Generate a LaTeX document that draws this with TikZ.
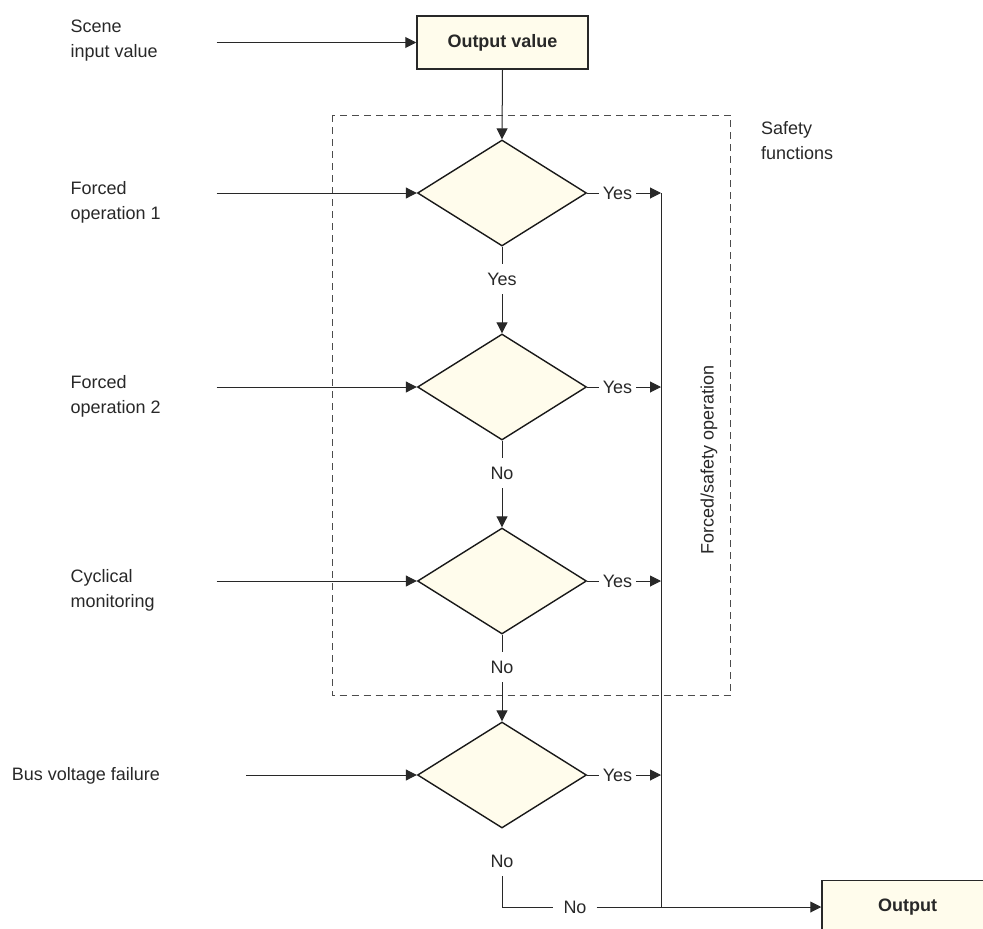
\documentclass[tikz,border=0pt]{standalone}
\usepackage{fontspec}
\setmainfont{Liberation Sans}
\usetikzlibrary{arrows.meta,shapes.geometric}
\definecolor{cream}{RGB}{255,252,236}
\definecolor{ink}{RGB}{40,40,40}
\begin{document}
\begin{tikzpicture}[x=1pt,y=-1pt,
  every node/.style={font=\fontsize{18}{25}\selectfont, text=ink},
  box/.style={draw=ink, line width=1.5pt, fill=cream, minimum width=171pt, minimum height=53pt, inner sep=0pt, font=\fontsize{18}{25}\selectfont\bfseries},
  dec/.style={diamond, draw=black!90, line width=1.4pt, fill=cream, minimum width=169pt, minimum height=106pt, inner sep=0pt},
  conn/.style={draw=ink, line width=1pt},
  arr/.style={conn, -{Triangle[length=11pt,width=11pt]}},
  lbl/.style={inner xsep=4pt, inner ysep=9pt},
  side/.style={anchor=north west, align=left, inner sep=0pt}
]
\useasboundingbox (0,0) rectangle (983,929);
\clip (0,0) rectangle (983,929);

% dashed safety frame
\draw[draw=black!70, line width=1pt, dash pattern=on 7pt off 5pt] (332.3,115) rectangle (730.7,695.7);
\node[side] (sf) at (761,121) {Safety\\functions};
\node[rotate=90] (fso) at (709,460) {Forced/safety operation};

% main nodes
\node[box] (ov) at (502.5,42.5) {Output value};
\node[dec] (d1) at (502,193) {};
\node[dec] (d2) at (502,387) {};
\node[dec] (d3) at (502,581) {};
\node[dec] (d4) at (502,775) {};
\node[box] (out) at (907.5,907) {Output};

% left labels
\node[side] (l0) at (70.5,20) {Scene\\input value};
\node[side] (l1) at (70.5,181) {Forced\\operation 1};
\node[side] (l2) at (70.5,375) {Forced\\operation 2};
\node[side] (l3) at (70.5,569) {Cyclical\\monitoring};
\node[anchor=base west, inner sep=0pt] (l4) at (11.7,780.7) {Bus voltage failure};

\coordinate (s0) at (216.7,42.5);
\coordinate (s1) at (216.7,193);
\coordinate (s2) at (216.7,387);
\coordinate (s3) at (216.7,581);
\coordinate (s4) at (246,775);
\draw[arr] (s0) -- (ov.west);
\draw[arr] (s1) -- (d1.west);
\draw[arr] (s2) -- (d2.west);
\draw[arr] (s3) -- (d3.west);
\draw[arr] (s4) -- (d4.west);

% vertical chain
\draw[arr] (ov.south) -- (d1.north);
\node[lbl] (y12) at (502,279) {Yes};
\node[lbl] (n23) at (502,473) {No};
\node[lbl] (n34) at (502,667) {No};
\node[lbl] (n4b) at (502,861) {No};
\draw[conn] (d1.south) -- (y12.north);
\draw[arr] (y12.south) -- (d2.north);
\draw[conn] (d2.south) -- (n23.north);
\draw[arr] (n23.south) -- (d3.north);
\draw[conn] (d3.south) -- (n34.north);
\draw[arr] (n34.south) -- (d4.north);

% collector line
\coordinate (vt) at (661,193);
\coordinate (vb) at (661,907);
\draw[conn] (vt) -- (vb);

% yes branches
\foreach \d/\y in {d1/193,d2/387,d3/581,d4/775}{
  \node[lbl] (y\d) at (617.5,\y) {Yes};
  \draw[conn] (\d.east) -- (y\d.west);
  \draw[arr] (y\d.east) -- (661,\y);
}

% bottom no path
\coordinate (corner) at (502,907);
\node[inner xsep=10pt, inner ysep=4pt] (nh) at (575,907) {No};
\draw[conn] (n4b.south) -- (corner) -- (nh.west);
\draw[arr] (nh.east) -- (out.west);
\end{tikzpicture}
\end{document}
